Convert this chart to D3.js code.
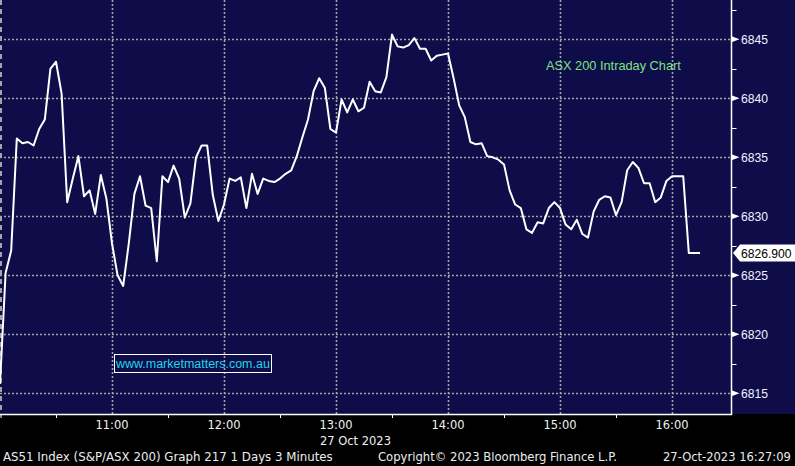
<!DOCTYPE html>
<html><head><meta charset="utf-8">
<script src="https://cdn.jsdelivr.net/npm/d3@7"></script>
<style>html,body{margin:0;padding:0;background:#000;}svg{display:block;}</style>
</head><body>
<div id="chart"></div>
<script>
// ---- data (3-minute bars from 10:00, 27 Oct 2023) ----
const values = [
6815.8,6825.2,6827.1,6836.6,6836.2,6836.3,6836.0,6837.4,6838.2,6842.5,
6843.1,6840.4,6831.2,6833.2,6835.1,6831.7,6832.2,6830.2,6833.5,6831.5,
6827.7,6825.0,6824.1,6827.7,6831.9,6833.4,6830.9,6830.7,6826.2,6833.4,
6832.9,6834.3,6833.2,6829.9,6831.1,6835.0,6836.0,6836.0,6831.8,6829.6,
6831.0,6833.2,6833.0,6833.3,6830.7,6833.6,6831.9,6833.2,6833.0,6832.9,
6833.2,6833.6,6833.9,6835.1,6836.7,6838.2,6840.6,6841.7,6840.9,6837.4,
6837.1,6839.9,6838.8,6839.9,6838.9,6839.2,6841.4,6840.6,6840.5,6841.8,
6845.4,6844.4,6844.3,6844.5,6845.1,6844.2,6844.2,6843.2,6843.6,6843.7,
6843.8,6841.7,6839.4,6838.4,6836.3,6836.1,6836.2,6835.1,6835.0,6834.8,
6834.4,6832.2,6831.0,6830.7,6828.9,6828.6,6829.5,6829.4,6830.7,6831.2,
6830.7,6829.3,6828.9,6829.7,6828.5,6828.2,6830.4,6831.4,6831.7,6831.6,
6830.1,6831.2,6833.9,6834.6,6834.1,6832.8,6832.8,6831.2,6831.6,6833.0,
6833.4,6833.4,6833.4,6826.9,6826.9,6826.9
];
const barMinutes = 3;                 // interval of each point
const xTickMinutes = [60,120,180,240,300,360];
const xTickLabels = ["11:00","12:00","13:00","14:00","15:00","16:00"];
const xMinorMinutes = [30,90,150,210,270,330];
const yTicks = [6815,6820,6825,6830,6835,6840,6845];
const yMinorTicks = [6817.5,6822.5,6827.5,6832.5,6837.5,6842.5,6847.5];
const lastValue = 6826.9;
const title = "ASX 200 Intraday Chart";
const website = "www.marketmatters.com.au";
const dateLabel = "27 Oct 2023";
const footerLeft = "AS51 Index (S&P/ASX 200) Graph 217 1 Days 3 Minutes";
const footerMid = "Copyright\u00a9 2023 Bloomberg Finance L.P.";
const footerRight = "27-Oct-2023 16:27:09";

// ---- layout ----
const W = 795, H = 466;
const plotR = 731.5, plotB = 414;
const navy = "#0f0c4a";
const numFont = "'Liberation Sans Narrow','Liberation Sans',Arial,sans-serif";
const ff = "'DejaVu Sans Condensed','DejaVu Sans',Verdana,sans-serif";

const svg = d3.select("#chart").append("svg").attr("width", W).attr("height", H);
svg.append("rect").attr("width", W).attr("height", H).attr("fill", "#000");
svg.append("rect").attr("width", W).attr("height", plotB).attr("fill", navy);

// scale a text's font size so its natural width equals target width
function fit(sel, target, base) {
  sel.attr("font-size", base);
  sel.each(function() {
    const len = this.getComputedTextLength();
    if (len > 0) d3.select(this).attr("font-size", (base * target / len).toFixed(2));
  });
  return sel;
}

const x = d3.scaleLinear().domain([0, 391.6]).range([0, 731]);
const y = d3.scaleLinear().domain([6813.25, 6848.33]).range([plotB, 0]);

const grid = svg.append("g");
grid.selectAll("line.h").data(yTicks).join("line")
  .attr("x1", 0).attr("x2", plotR)
  .attr("y1", d => Math.round(y(d)) + 0.5).attr("y2", d => Math.round(y(d)) + 0.5)
  .attr("stroke", "#a3a3a8").attr("stroke-width", 1.6).attr("stroke-dasharray", "2,2");
grid.selectAll("line.v").data(xTickMinutes).join("line")
  .attr("x1", d => Math.round(x(d)) + 0.5).attr("x2", d => Math.round(x(d)) + 0.5)
  .attr("y1", 0).attr("y2", plotB)
  .attr("stroke", "#a3a3a8").attr("stroke-width", 1.6).attr("stroke-dasharray", "2,2");
grid.append("line").attr("x1", x(0) + 1).attr("x2", x(0) + 1).attr("y1", 0).attr("y2", plotB)
  .attr("stroke", "#a3a3a8").attr("stroke-width", 2).attr("stroke-dasharray", "5,4");

// price line
const line = d3.line().x((d, i) => x(i * barMinutes)).y(d => y(d));
svg.append("path").datum(values).attr("d", line)
  .attr("fill", "none").attr("stroke", "#fff").attr("stroke-width", 2)
  .attr("stroke-linejoin", "round");

// right axis
const ra = svg.append("g");
ra.append("line").attr("x1", plotR).attr("x2", plotR).attr("y1", 0).attr("y2", plotB)
  .attr("stroke", "#fff").attr("stroke-width", 1.5);
ra.selectAll("line.mn").data(yMinorTicks).join("line")
  .attr("x1", plotR).attr("x2", plotR + 5)
  .attr("y1", d => Math.round(y(d)) + 0.5).attr("y2", d => Math.round(y(d)) + 0.5)
  .attr("stroke", "#fff").attr("stroke-width", 1);
ra.selectAll("path.tri").data(yTicks).join("path")
  .attr("d", d => { const yy = y(d); return `M${plotR},${yy-3}L${plotR+8},${yy}L${plotR},${yy+3}Z`; })
  .attr("fill", "#fff");
const yLab = ra.selectAll("text").data(yTicks).join("text")
  .attr("x", 741).attr("y", d => y(d) + 5)
  .attr("fill", "#f2f2ff").attr("font-family", numFont)
  .text(d => d);
fit(yLab, 27, 15);
const yFs = +yLab.attr("font-size");

// last value label
const ly = y(lastValue);
svg.append("path")
  .attr("d", `M733,${ly}L740,${ly-8.5}L795,${ly-8.5}L795,${ly+8.5}L740,${ly+8.5}Z`)
  .attr("fill", "#fff");
const lv = svg.append("text").attr("x", 741).attr("y", ly + 5)
  .attr("fill", "#000").attr("font-family", numFont).attr("font-size", yFs)
  .text(d3.format(".3f")(lastValue));
if (lv.node().getComputedTextLength() > 51) fit(lv, 51, yFs);

// bottom axis
const ba = svg.append("g");
ba.append("line").attr("x1", 0).attr("x2", plotR + 0.75).attr("y1", plotB + 0.5).attr("y2", plotB + 0.5)
  .attr("stroke", "#fff").attr("stroke-width", 1.5);
ba.selectAll("line.mt").data(xMinorMinutes).join("line")
  .attr("x1", d => Math.round(x(d)) + 0.5).attr("x2", d => Math.round(x(d)) + 0.5)
  .attr("y1", plotB).attr("y2", plotB + 4)
  .attr("stroke", "#fff").attr("stroke-width", 1);
ba.append("line").attr("x1", 1).attr("x2", 1).attr("y1", plotB).attr("y2", plotB + 4)
  .attr("stroke", "#fff").attr("stroke-width", 1);
const xl = ba.selectAll("text").data(xTickMinutes).join("text")
  .attr("x", d => x(d)).attr("y", 429)
  .attr("text-anchor", "middle").attr("fill", "#f0f0f0")
  .attr("font-family", ff)
  .text((d, i) => xTickLabels[i]);
fit(xl, 33, 13);
fit(svg.append("text").attr("x", 320).attr("y", 444.5).attr("fill", "#f0f0f0")
  .attr("font-family", ff).text(dateLabel), 71, 13);

// footer
fit(svg.append("text").attr("x", 3).attr("y", 461).attr("fill", "#ececec").attr("font-family", ff)
  .text(footerLeft), 330, 13);
fit(svg.append("text").attr("x", 378).attr("y", 461).attr("fill", "#ececec").attr("font-family", ff)
  .text(footerMid), 239, 13);
fit(svg.append("text").attr("x", 663).attr("y", 461).attr("fill", "#ececec").attr("font-family", ff)
  .text(footerRight), 128, 13);

// title
fit(svg.append("text").attr("x", 546).attr("y", 70).attr("fill", "#80e27f")
  .attr("font-family", "'Liberation Sans',Arial,sans-serif").text(title), 135, 13);

// website box
svg.append("rect").attr("x", 114.5).attr("y", 354.5).attr("width", 157).attr("height", 18)
  .attr("fill", "none").attr("stroke", "#fff").attr("stroke-width", 1);
fit(svg.append("text").attr("x", 116).attr("y", 368).attr("fill", "#1fd6e6")
  .attr("font-family", "'Liberation Sans',Arial,sans-serif").text(website), 154, 13);
</script>
</body></html>
